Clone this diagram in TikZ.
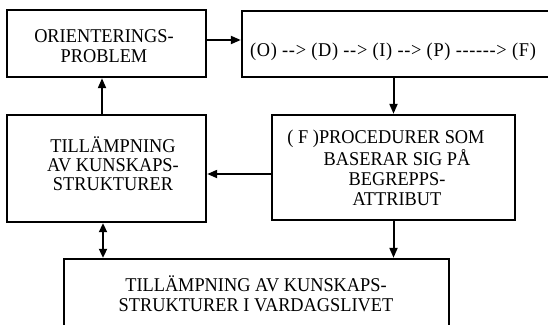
\documentclass[tikz,border=0pt]{standalone}
\usepackage{fontspec}
\setmainfont[FakeStretch=0.94, Ligatures=TeXOff]{Liberation Serif}
\usepackage{tikz}
\usetikzlibrary{arrows.meta, calc}

\begin{document}
\begin{tikzpicture}[
  x=1pt, y=-1pt,
  box/.style={draw, line width=2.4pt, inner sep=0pt},
  txt/.style={anchor=base, align=center, inner sep=0pt,
    font=\fontsize{19.5}{20}\selectfont},
  arr/.style={-{Triangle[length=10pt, width=8pt]}, line width=2pt},
  dbl/.style={{Triangle[length=9pt, width=8pt]}-{Triangle[length=9pt, width=8pt]}, line width=2pt}
]
\useasboundingbox (0,0) rectangle (548,324);
\clip (0,0) rectangle (548,324);

% Boxes
\node[box, minimum width=199pt, minimum height=67pt] (orient) at (106.5,43.5) {};
\node[box, minimum width=318pt, minimum height=66pt] (chain) at (401,44) {};
\node[box, minimum width=199pt, minimum height=107pt] (lapp) at (106.5,168.5) {};
\node[box, minimum width=243pt, minimum height=105pt] (proc) at (393.5,167.5) {};
\node[box, minimum width=385pt, minimum height=76pt] (vard) at (256.5,297) {};

% Texts (base = last line)
\node[txt] (orient-t) at (104,62) {ORIENTERINGS-\\PROBLEM};
\node[txt, font=\fontsize{19.5}{20}\selectfont\addfontfeatures{LetterSpace=3.5}] (chain-t) at (393,56) {(O) --> (D) --> (I) --> (P) ------> (F)};
\node[txt, font=\fontsize{19.5}{19}\selectfont] (lapp-t) at (113,190) {TILLÄMPNING\\AV KUNSKAPS-\\STRUKTURER};
\node[txt] (proc-t) at (397,205) {( F )PROCEDURER SOM\hspace*{22pt}\\BASERAR SIG PÅ\\BEGREPPS-\\ATTRIBUT};
\node[txt] (vard-t) at (256,311) {TILLÄMPNING AV KUNSKAPS-\\STRUKTURER I VARDAGSLIVET};

% Arrows
\draw[arr] ([yshift=3.5pt]orient.east) -- ([yshift=3.5pt]orient.east -| chain.west);
\draw[arr] (chain.south -| proc.north) -- (proc.north);
\draw[arr] ([yshift=-6.5pt]proc.west) -- ([yshift=-6.5pt]proc.west -| lapp.east);
\draw[arr] ([xshift=-4.5pt]lapp.north) -- ([xshift=-4.5pt]orient.south);
\draw[dbl] ([xshift=-3.5pt]lapp.south) -- ([xshift=-3.5pt]lapp.south |- vard.north);
\draw[arr] (proc.south) -- (proc.south |- vard.north);

\end{tikzpicture}
\end{document}
